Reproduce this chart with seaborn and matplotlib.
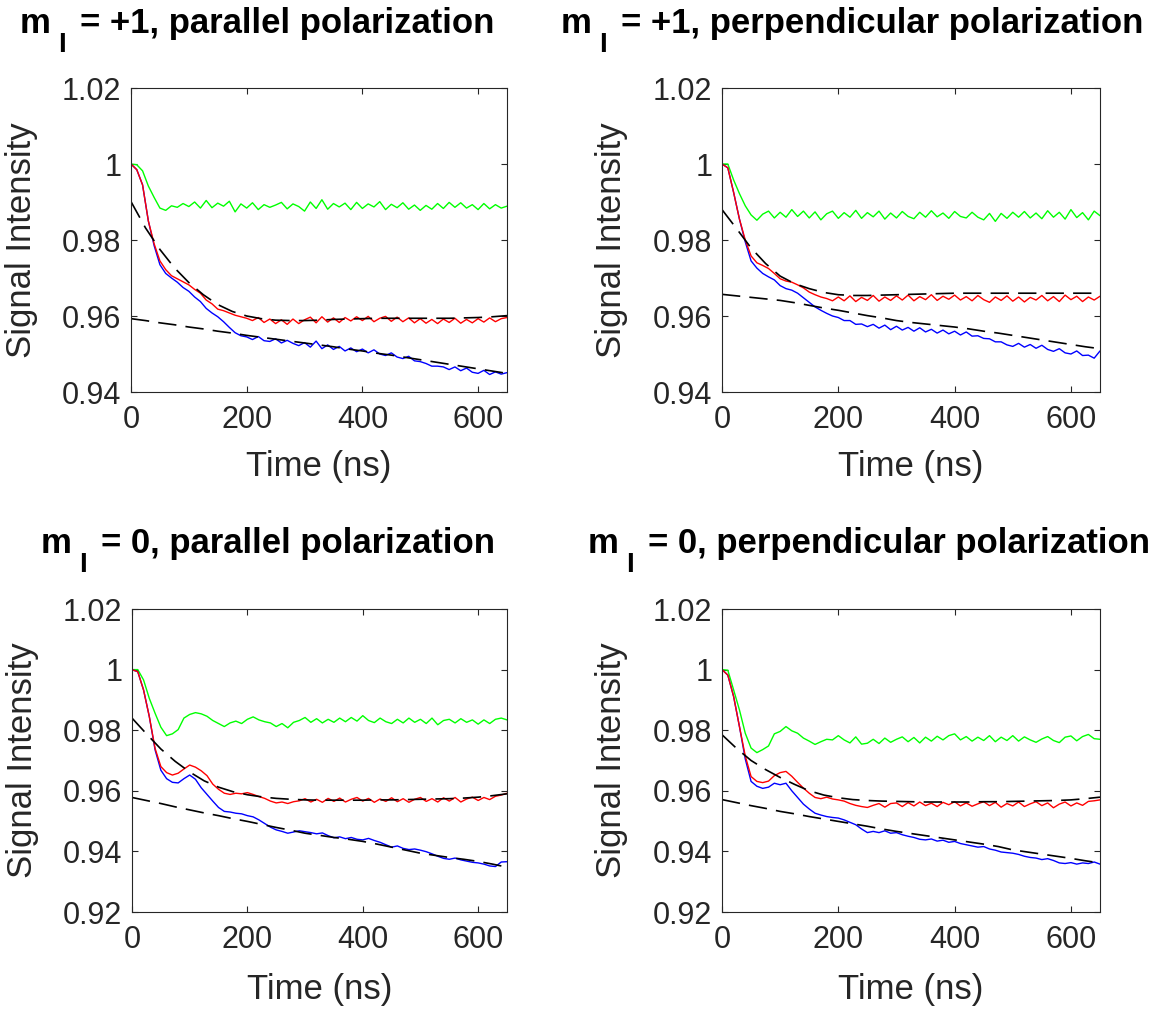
import numpy as np
import pandas as pd
import matplotlib
matplotlib.use("Agg")
import matplotlib.pyplot as plt
import seaborn as sns

# ---------------- data ----------------
t = np.arange(0, 651, 10)          # time grid of the measured traces (ns)
t_fit = np.arange(0, 651, 25)      # time grid of the fitted curves (ns)

title_main = ["= +1, parallel polarization",
              "= +1, perpendicular polarization",
              "= 0, parallel polarization",
              "= 0, perpendicular polarization"]

# panel 1: m_I = +1, parallel
p1_green = [1.0000, 0.9998, 0.9982, 0.9942, 0.9912, 0.9884, 0.9878, 0.9890, 0.9886, 0.9896,
            0.9888, 0.9900, 0.9884, 0.9904, 0.9885, 0.9897, 0.9889, 0.9902, 0.9874, 0.9895,
            0.9884, 0.9898, 0.9880, 0.9893, 0.9886, 0.9892, 0.9899, 0.9882, 0.9895, 0.9888,
            0.9876, 0.9900, 0.9883, 0.9906, 0.9881, 0.9896, 0.9887, 0.9897, 0.9880, 0.9899,
            0.9883, 0.9895, 0.9887, 0.9901, 0.9880, 0.9894, 0.9885, 0.9898, 0.9881, 0.9892,
            0.9878, 0.9891, 0.9881, 0.9896, 0.9883, 0.9899, 0.9886, 0.9898, 0.9884, 0.9893,
            0.9880, 0.9896, 0.9882, 0.9893, 0.9884, 0.9889]
p1_red = [1.0000, 0.9985, 0.9945, 0.9850, 0.9790, 0.9745, 0.9722, 0.9706, 0.9698, 0.9690,
          0.9682, 0.9670, 0.9660, 0.9642, 0.9632, 0.9618, 0.9614, 0.9608, 0.9602, 0.9598,
          0.9594, 0.9588, 0.9596, 0.9583, 0.9592, 0.9580, 0.9590, 0.9578, 0.9592, 0.9580,
          0.9590, 0.9597, 0.9582, 0.9598, 0.9584, 0.9595, 0.9583, 0.9596, 0.9587, 0.9598,
          0.9588, 0.9599, 0.9585, 0.9594, 0.9599, 0.9586, 0.9597, 0.9585, 0.9595, 0.9582,
          0.9593, 0.9581, 0.9591, 0.9580, 0.9592, 0.9583, 0.9594, 0.9581, 0.9591, 0.9582,
          0.9593, 0.9584, 0.9595, 0.9585, 0.9593, 0.9596]
p1_blue = [1.0000, 0.9985, 0.9945, 0.9850, 0.9785, 0.9735, 0.9712, 0.9700, 0.9689, 0.9675,
           0.9665, 0.9650, 0.9638, 0.9620, 0.9608, 0.9598, 0.9585, 0.9570, 0.9556, 0.9548,
           0.9545, 0.9538, 0.9546, 0.9535, 0.9533, 0.9540, 0.9529, 0.9536, 0.9528, 0.9522,
           0.9530, 0.9518, 0.9534, 0.9514, 0.9524, 0.9512, 0.9520, 0.9508, 0.9516, 0.9506,
           0.9513, 0.9503, 0.9511, 0.9500, 0.9496, 0.9503, 0.9492, 0.9488, 0.9494, 0.9482,
           0.9480, 0.9475, 0.9468, 0.9468, 0.9466, 0.9459, 0.9466, 0.9456, 0.9463, 0.9452,
           0.9449, 0.9457, 0.9446, 0.9453, 0.9447, 0.9451]
p1_fit_upper = [0.9901, 0.9832, 0.9775, 0.9727, 0.9688, 0.9656, 0.9630, 0.9612, 0.9600,
                0.9593, 0.9589, 0.9588, 0.9588, 0.9589, 0.9591, 0.9592, 0.9593, 0.9594,
                0.9594, 0.9594, 0.9594, 0.9594, 0.9594, 0.9595, 0.9596, 0.9598, 0.9601]
p1_fit_lower = [0.9593, 0.9588, 0.9582, 0.9577, 0.9571, 0.9566, 0.9560, 0.9555, 0.9549,
                0.9544, 0.9539, 0.9534, 0.9529, 0.9524, 0.9519, 0.9513, 0.9508, 0.9502,
                0.9497, 0.9491, 0.9485, 0.9479, 0.9473, 0.9467, 0.9461, 0.9455, 0.9449]

# panel 2: m_I = +1, perpendicular
p2_green = [1.0000, 1.0000, 0.9958, 0.9922, 0.9890, 0.9866, 0.9852, 0.9868, 0.9876, 0.9858,
            0.9873, 0.9860, 0.9880, 0.9862, 0.9876, 0.9858, 0.9874, 0.9853, 0.9869, 0.9876,
            0.9857, 0.9872, 0.9860, 0.9878, 0.9857, 0.9872, 0.9861, 0.9876, 0.9855, 0.9871,
            0.9858, 0.9875, 0.9862, 0.9856, 0.9873, 0.9860, 0.9877, 0.9861, 0.9871, 0.9857,
            0.9875, 0.9862, 0.9858, 0.9873, 0.9860, 0.9853, 0.9870, 0.9849, 0.9870, 0.9857,
            0.9873, 0.9860, 0.9875, 0.9858, 0.9871, 0.9856, 0.9877, 0.9860, 0.9873, 0.9855,
            0.9880, 0.9859, 0.9872, 0.9853, 0.9876, 0.9864]
p2_red = [1.0000, 0.9990, 0.9925, 0.9855, 0.9800, 0.9758, 0.9740, 0.9733, 0.9725, 0.9712,
          0.9698, 0.9692, 0.9689, 0.9682, 0.9674, 0.9663, 0.9656, 0.9650, 0.9646, 0.9640,
          0.9650, 0.9640, 0.9653, 0.9638, 0.9649, 0.9641, 0.9654, 0.9639, 0.9650, 0.9641,
          0.9653, 0.9642, 0.9655, 0.9640, 0.9651, 0.9643, 0.9656, 0.9641, 0.9652, 0.9644,
          0.9655, 0.9642, 0.9651, 0.9640, 0.9654, 0.9643, 0.9636, 0.9650, 0.9641, 0.9653,
          0.9639, 0.9650, 0.9637, 0.9649, 0.9642, 0.9654, 0.9640, 0.9651, 0.9638, 0.9655,
          0.9643, 0.9652, 0.9638, 0.9650, 0.9642, 0.9652]
p2_blue = [1.0000, 0.9990, 0.9925, 0.9855, 0.9795, 0.9745, 0.9726, 0.9712, 0.9703, 0.9695,
           0.9680, 0.9672, 0.9668, 0.9660, 0.9648, 0.9636, 0.9624, 0.9615, 0.9607, 0.9600,
           0.9596, 0.9588, 0.9588, 0.9578, 0.9579, 0.9572, 0.9578, 0.9568, 0.9576, 0.9564,
           0.9573, 0.9563, 0.9570, 0.9560, 0.9569, 0.9558, 0.9565, 0.9555, 0.9563, 0.9553,
           0.9560, 0.9550, 0.9558, 0.9547, 0.9548, 0.9541, 0.9540, 0.9532, 0.9532, 0.9524,
           0.9520, 0.9528, 0.9518, 0.9525, 0.9515, 0.9523, 0.9512, 0.9507, 0.9514, 0.9503,
           0.9500, 0.9508, 0.9496, 0.9497, 0.9489, 0.9508]
p2_fit_upper = [0.9880, 0.9830, 0.9779, 0.9738, 0.9705, 0.9685, 0.9672, 0.9662, 0.9656,
                0.9654, 0.9654, 0.9655, 0.9656, 0.9657, 0.9658, 0.9659, 0.9660, 0.9660,
                0.9660, 0.9660, 0.9660, 0.9660, 0.9660, 0.9660, 0.9660, 0.9660, 0.9660]
p2_fit_lower = [0.9657, 0.9653, 0.9649, 0.9645, 0.9641, 0.9635, 0.9628, 0.9621, 0.9615,
                0.9608, 0.9601, 0.9595, 0.9588, 0.9583, 0.9579, 0.9575, 0.9571, 0.9566,
                0.9560, 0.9555, 0.9549, 0.9543, 0.9537, 0.9531, 0.9525, 0.9519, 0.9514]

# panel 3: m_I = 0, parallel
p3_green = [1.0000, 1.0000, 0.9966, 0.9905, 0.9856, 0.9810, 0.9782, 0.9788, 0.9802, 0.9840,
            0.9852, 0.9858, 0.9854, 0.9846, 0.9832, 0.9822, 0.9812, 0.9824, 0.9830, 0.9822,
            0.9836, 0.9844, 0.9834, 0.9828, 0.9824, 0.9812, 0.9822, 0.9808, 0.9826, 0.9832,
            0.9842, 0.9826, 0.9838, 0.9824, 0.9836, 0.9826, 0.9840, 0.9828, 0.9842, 0.9830,
            0.9848, 0.9832, 0.9825, 0.9840, 0.9828, 0.9822, 0.9836, 0.9824, 0.9840, 0.9826,
            0.9836, 0.9822, 0.9840, 0.9818, 0.9832, 0.9836, 0.9824, 0.9838, 0.9826, 0.9834,
            0.9820, 0.9834, 0.9822, 0.9836, 0.9840, 0.9834]
p3_red = [1.0000, 0.9993, 0.9933, 0.9845, 0.9740, 0.9680, 0.9660, 0.9652, 0.9658, 0.9672,
          0.9685, 0.9678, 0.9666, 0.9650, 0.9622, 0.9605, 0.9592, 0.9588, 0.9592, 0.9590,
          0.9594, 0.9588, 0.9581, 0.9575, 0.9566, 0.9560, 0.9563, 0.9558, 0.9564, 0.9567,
          0.9574, 0.9563, 0.9572, 0.9562, 0.9575, 0.9565, 0.9576, 0.9563, 0.9572, 0.9578,
          0.9566, 0.9575, 0.9562, 0.9573, 0.9565, 0.9577, 0.9564, 0.9574, 0.9562, 0.9572,
          0.9578, 0.9565, 0.9574, 0.9563, 0.9577, 0.9566, 0.9578, 0.9563, 0.9573, 0.9579,
          0.9568, 0.9578, 0.9571, 0.9582, 0.9586, 0.9592]
p3_blue = [1.0000, 0.9993, 0.9933, 0.9845, 0.9735, 0.9668, 0.9640, 0.9628, 0.9626, 0.9640,
           0.9652, 0.9638, 0.9610, 0.9588, 0.9566, 0.9545, 0.9532, 0.9530, 0.9526, 0.9524,
           0.9518, 0.9514, 0.9504, 0.9492, 0.9480, 0.9471, 0.9466, 0.9460, 0.9464, 0.9468,
           0.9465, 0.9462, 0.9458, 0.9461, 0.9452, 0.9445, 0.9448, 0.9442, 0.9446, 0.9440,
           0.9438, 0.9443, 0.9436, 0.9430, 0.9422, 0.9414, 0.9418, 0.9410, 0.9406, 0.9408,
           0.9404, 0.9399, 0.9392, 0.9384, 0.9377, 0.9374, 0.9378, 0.9372, 0.9368, 0.9364,
           0.9362, 0.9358, 0.9352, 0.9350, 0.9365, 0.9366]
p3_fit_upper = [0.9840, 0.9788, 0.9738, 0.9697, 0.9662, 0.9633, 0.9612, 0.9597, 0.9587,
                0.9580, 0.9575, 0.9572, 0.9570, 0.9569, 0.9569, 0.9569, 0.9569, 0.9570,
                0.9570, 0.9571, 0.9572, 0.9573, 0.9574, 0.9576, 0.9579, 0.9584, 0.9590]
p3_fit_lower = [0.9578, 0.9568, 0.9558, 0.9547, 0.9537, 0.9527, 0.9518, 0.9508, 0.9499,
                0.9489, 0.9479, 0.9470, 0.9460, 0.9453, 0.9446, 0.9440, 0.9433, 0.9424,
                0.9414, 0.9404, 0.9394, 0.9387, 0.9380, 0.9374, 0.9367, 0.9358, 0.9348]

# panel 4: m_I = 0, perpendicular
p4_green = [1.0000, 0.9998, 0.9933, 0.9867, 0.9790, 0.9741, 0.9726, 0.9736, 0.9748, 0.9788,
            0.9796, 0.9812, 0.9798, 0.9790, 0.9774, 0.9764, 0.9753, 0.9762, 0.9770, 0.9768,
            0.9782, 0.9768, 0.9758, 0.9778, 0.9754, 0.9757, 0.9770, 0.9756, 0.9774, 0.9760,
            0.9770, 0.9778, 0.9762, 0.9776, 0.9758, 0.9777, 0.9764, 0.9780, 0.9768, 0.9782,
            0.9788, 0.9768, 0.9779, 0.9764, 0.9777, 0.9766, 0.9782, 0.9762, 0.9777, 0.9766,
            0.9782, 0.9764, 0.9778, 0.9768, 0.9760, 0.9771, 0.9779, 0.9766, 0.9759, 0.9777,
            0.9781, 0.9765, 0.9779, 0.9786, 0.9772, 0.9770]
p4_red = [1.0000, 0.9982, 0.9911, 0.9812, 0.9715, 0.9647, 0.9631, 0.9627, 0.9632, 0.9650,
          0.9660, 0.9664, 0.9648, 0.9628, 0.9609, 0.9592, 0.9578, 0.9574, 0.9579, 0.9573,
          0.9570, 0.9566, 0.9558, 0.9552, 0.9548, 0.9545, 0.9552, 0.9558, 0.9546, 0.9558,
          0.9560, 0.9548, 0.9561, 0.9550, 0.9563, 0.9551, 0.9559, 0.9548, 0.9562, 0.9554,
          0.9564, 0.9550, 0.9560, 0.9549, 0.9557, 0.9564, 0.9551, 0.9562, 0.9546, 0.9558,
          0.9550, 0.9563, 0.9548, 0.9557, 0.9564, 0.9551, 0.9560, 0.9544, 0.9556, 0.9563,
          0.9550, 0.9560, 0.9552, 0.9565, 0.9567, 0.9570]
p4_blue = [1.0000, 0.9982, 0.9911, 0.9812, 0.9705, 0.9631, 0.9615, 0.9608, 0.9612, 0.9625,
           0.9620, 0.9625, 0.9600, 0.9578, 0.9556, 0.9540, 0.9526, 0.9520, 0.9515, 0.9512,
           0.9510, 0.9504, 0.9496, 0.9488, 0.9474, 0.9462, 0.9466, 0.9462, 0.9468, 0.9460,
           0.9462, 0.9455, 0.9450, 0.9446, 0.9440, 0.9438, 0.9441, 0.9434, 0.9437, 0.9430,
           0.9433, 0.9426, 0.9422, 0.9418, 0.9414, 0.9416, 0.9408, 0.9404, 0.9398, 0.9396,
           0.9394, 0.9390, 0.9384, 0.9380, 0.9378, 0.9373, 0.9376, 0.9370, 0.9362, 0.9360,
           0.9363, 0.9358, 0.9362, 0.9360, 0.9365, 0.9358]
p4_fit_upper = [0.9785, 0.9740, 0.9700, 0.9670, 0.9644, 0.9621, 0.9600, 0.9586, 0.9577,
                0.9571, 0.9568, 0.9566, 0.9565, 0.9564, 0.9563, 0.9563, 0.9563, 0.9563,
                0.9564, 0.9564, 0.9565, 0.9566, 0.9567, 0.9568, 0.9570, 0.9574, 0.9579]
p4_fit_lower = [0.9571, 0.9561, 0.9551, 0.9542, 0.9532, 0.9524, 0.9515, 0.9507, 0.9499,
                0.9491, 0.9483, 0.9474, 0.9466, 0.9459, 0.9452, 0.9445, 0.9438, 0.9431,
                0.9424, 0.9416, 0.9405, 0.9398, 0.9391, 0.9384, 0.9377, 0.9369, 0.9362]

x_ticks = [0, 200, 400, 600]
top_y_ticks = [0.94, 0.96, 0.98, 1.00, 1.02]
top_y_labels = ["0.94", "0.96", "0.98", "1", "1.02"]
bottom_y_ticks = [0.92, 0.94, 0.96, 0.98, 1.00, 1.02]
bottom_y_labels = ["0.92", "0.94", "0.96", "0.98", "1", "1.02"]

panels = [
    (p1_green, p1_red, p1_blue, p1_fit_upper, p1_fit_lower),
    (p2_green, p2_red, p2_blue, p2_fit_upper, p2_fit_lower),
    (p3_green, p3_red, p3_blue, p3_fit_upper, p3_fit_lower),
    (p4_green, p4_red, p4_blue, p4_fit_upper, p4_fit_lower),
]

# ---------------- style ----------------
sns.set_theme(style="ticks")
plt.rcParams["font.family"] = ["Liberation Sans", "DejaVu Sans"]
DARK = "#262626"

W, H = 1157, 1010
fig = plt.figure(figsize=(W / 100, H / 100), dpi=100)
renderer = fig.canvas.get_renderer()

# axes boxes in pixels: left, top, right, bottom
boxes = [(131, 88, 507, 392), (722, 88, 1100, 392),
         (132, 609, 507, 912), (722, 609, 1100, 912)]
title_cx = [257, 852, 268, 869]
title_base = [33, 33, 553, 553]


def draw_title(cx, base_px, rest):
    """Title 'm  I = ...' with a large, lowered subscript I (MATLAB style)."""
    kw = dict(fontweight="bold", color="black", va="baseline", ha="left")
    parts = [("m", 25, 0), ("I", 20, 19), (rest, 25, 0)]
    gaps = [8, 14, 0]
    widths = []
    for s, fs, _ in parts:
        tmp = fig.text(0, 0, s, fontsize=fs, **kw)
        widths.append(tmp.get_window_extent(renderer).width)
        tmp.remove()
    total = sum(widths) + sum(gaps)
    x = cx - total / 2
    for (s, fs, drop), w, gp in zip(parts, widths, gaps):
        fig.text(x / W, 1 - (base_px + drop) / H, s, fontsize=fs, **kw)
        x += w + gp


for i, (box, data) in enumerate(zip(boxes, panels)):
    l, tp, r, b = box
    ax = fig.add_axes([l / W, 1 - b / H, (r - l) / W, (b - tp) / H])
    g, rd, bl, fu, fl = data
    sns.lineplot(x=t, y=g, color=(0, 1, 0), linewidth=1.0, ax=ax,
                 estimator=None, errorbar=None, sort=False)
    sns.lineplot(x=t, y=bl, color=(0, 0, 1), linewidth=1.0, ax=ax,
                 estimator=None, errorbar=None, sort=False)
    sns.lineplot(x=t, y=rd, color=(1, 0, 0), linewidth=1.0, ax=ax,
                 estimator=None, errorbar=None, sort=False)
    sns.lineplot(x=t_fit, y=fu, color="black", linewidth=1.2, ax=ax,
                 estimator=None, errorbar=None, sort=False, linestyle=(0, (11, 5.5)))
    sns.lineplot(x=t_fit, y=fl, color="black", linewidth=1.2, ax=ax,
                 estimator=None, errorbar=None, sort=False, linestyle=(0, (11, 5.5)))

    ax.set_xlim(0, 650)
    ax.set_xticks(x_ticks)
    ax.set_xticklabels([str(v) for v in x_ticks])
    if i < 2:
        ax.set_ylim(0.94, 1.02)
        ax.set_yticks(top_y_ticks)
        ax.set_yticklabels(top_y_labels)
    else:
        ax.set_ylim(0.92, 1.02)
        ax.set_yticks(bottom_y_ticks)
        ax.set_yticklabels(bottom_y_labels)

    for sp in ax.spines.values():
        sp.set_visible(True)
        sp.set_color(DARK)
        sp.set_linewidth(0.8)
    ax.tick_params(axis="both", which="both", direction="in", length=4, width=0.8,
                   colors=DARK, labelsize=22, top=True, right=True)
    ax.tick_params(axis="x", pad=9)
    ax.tick_params(axis="y", pad=7)

    ax.set_xlabel("Time (ns)", fontsize=25, color=DARK)
    ax.set_ylabel("Signal Intensity", fontsize=25, color=DARK)
    ax.yaxis.set_label_coords(-0.248, 0.5)
    ax.xaxis.set_label_coords(0.5, -0.19 if i < 2 else -0.2)

    draw_title(title_cx[i], title_base[i], title_main[i])

fig.savefig("out.png", dpi=100, facecolor="white")
